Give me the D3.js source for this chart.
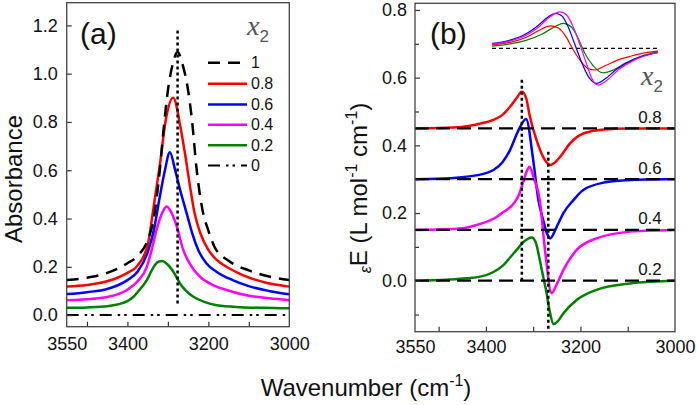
<!DOCTYPE html>
<html><head><meta charset="utf-8">
<script src="https://cdn.jsdelivr.net/npm/d3@7"></script>
<style>body{margin:0;background:#fff} svg{display:block} text{font-family:Arial,"Liberation Sans",sans-serif;fill:#111}</style>
</head><body><svg id="c" width="697" height="405"></svg>
<script>
// ---------- Panel (a) data: absorbance vs wavenumber ----------
const wnA_1 = [3550,3500,3450,3400,3375,3350,3335,3320,3310,3300,3288,3276,3264,3250,3240,3230,3215,3200,3184,3150,3100,3050,3000];
const absA_1 = [0.145,0.155,0.175,0.215,0.245,0.31,0.40,0.60,0.78,0.93,1.04,1.09,1.04,0.93,0.80,0.62,0.44,0.35,0.28,0.225,0.185,0.16,0.145];
const wnA_08 = [3550,3500,3450,3400,3375,3350,3335,3320,3305,3287,3268,3255,3245,3235,3220,3200,3180,3150,3115,3060,3000];
const absA_08 = [0.118,0.125,0.14,0.175,0.205,0.29,0.45,0.62,0.81,0.90,0.77,0.64,0.53,0.43,0.34,0.27,0.23,0.195,0.166,0.135,0.118];
const wnA_06 = [3550,3500,3450,3400,3375,3350,3335,3320,3308,3295,3282,3270,3260,3250,3240,3225,3205,3180,3140,3100,3050,3000];
const absA_06 = [0.087,0.095,0.108,0.145,0.18,0.26,0.35,0.49,0.595,0.675,0.60,0.52,0.46,0.40,0.34,0.27,0.215,0.18,0.145,0.12,0.10,0.086];
const wnA_04 = [3550,3500,3450,3400,3375,3352,3340,3328,3315,3303,3290,3278,3262,3245,3221,3190,3155,3100,3050,3000];
const absA_04 = [0.062,0.066,0.075,0.105,0.14,0.20,0.27,0.353,0.42,0.45,0.42,0.367,0.27,0.21,0.159,0.125,0.104,0.08,0.07,0.062];
const wnA_02 = [3550,3500,3450,3400,3385,3365,3352,3340,3332,3322,3314,3305,3295,3283,3270,3255,3237,3210,3179,3120,3060,3000];
const absA_02 = [0.03,0.032,0.037,0.058,0.076,0.115,0.145,0.185,0.208,0.222,0.224,0.216,0.2,0.17,0.131,0.10,0.076,0.055,0.041,0.033,0.03,0.028];
const wnA_0 = [3550,3000];
const absA_0 = [0,0];
const legendLabels = ["1","0.8","0.6","0.4","0.2","0"];
const peakLineA = {w:3276, from:0.048, to:1.187};

// ---------- Panel (b) data: excess absorptivity (offset curves) ----------
const wnB_08 = [3550,3500,3448,3400,3384,3365,3349,3335,3324,3315,3307,3293,3279,3264,3250,3243,3222,3194,3150,3100,3050,3000];
const epsB_08 = [0.45,0.451,0.455,0.468,0.475,0.49,0.514,0.54,0.558,0.54,0.485,0.416,0.366,0.342,0.355,0.366,0.406,0.435,0.447,0.45,0.45,0.45];
const wnB_06 = [3550,3500,3450,3400,3384,3365,3349,3331,3315,3300,3289,3278,3271,3264,3250,3236,3215,3194,3150,3100,3050,3000];
const epsB_06 = [0.30,0.301,0.306,0.318,0.327,0.35,0.386,0.445,0.478,0.357,0.238,0.175,0.14,0.125,0.16,0.2,0.238,0.268,0.29,0.297,0.299,0.30];
const wnB_04 = [3550,3500,3450,3412,3380,3363,3348,3340,3330,3321,3314,3308,3298,3286,3275,3261,3250,3236,3208,3166,3095,3050,3000];
const epsB_04 = [0.15,0.151,0.155,0.168,0.186,0.203,0.218,0.23,0.255,0.292,0.322,0.337,0.30,0.238,0.091,-0.037,-0.01,0.032,0.091,0.125,0.145,0.148,0.15];
const wnB_02 = [3550,3483,3440,3412,3385,3363,3348,3335,3320,3303,3295,3286,3280,3273,3265,3257,3248,3236,3208,3166,3095,3050,3000];
const epsB_02 = [0.0,0.003,0.007,0.012,0.025,0.046,0.07,0.091,0.115,0.128,0.115,0.061,0.02,-0.027,-0.09,-0.128,-0.12,-0.096,-0.057,-0.027,-0.008,-0.003,0.0];
const offsetsB = [0.45,0.30,0.15,0.0];
const offsetLabelsB = ["0.8","0.6","0.4","0.2"];
const peakLinesB = [{w:3324, from:0.0, to:0.596},{w:3268, from:-0.16, to:0.381}];

// ---------- Inset (normalized, unlabeled) ----------
const insU_08 = [0,10,20,28,35,40,45,49,54,58,62,68,76,84,92,100];
const insV_08 = [0.10,0.16,0.30,0.50,0.64,0.58,0.30,-0.05,-0.40,-0.58,-0.62,-0.50,-0.33,-0.22,-0.13,-0.08];
const insU_06 = [0,10,20,28,34,38,42,46,50,54,58,63,68,75,85,100];
const insV_06 = [0.14,0.22,0.40,0.66,0.90,1.0,0.93,0.60,0.10,-0.40,-0.80,-1.0,-0.88,-0.60,-0.33,-0.12];
const insU_04 = [0,10,20,28,35,41,45,49,53,57,60,64,69,76,86,100];
const insV_04 = [0.12,0.20,0.36,0.60,0.90,1.04,0.95,0.60,0.10,-0.45,-0.85,-1.05,-0.92,-0.62,-0.33,-0.12];
const insU_02 = [0,10,20,30,38,43,48,52,56,61,67,73,80,90,100];
const insV_02 = [0.06,0.12,0.22,0.40,0.62,0.71,0.60,0.28,-0.15,-0.50,-0.70,-0.62,-0.43,-0.22,-0.10];

const xTickLabels = [3550,3400,3200,3000];
const xTickMarks = [3500,3400,3300,3200,3100];
const yTicksA = [0,0.2,0.4,0.6,0.8,1.0,1.2];
const yTicksB = [0,0.2,0.4,0.6,0.8];
const yMinorB = [-0.1,0.1,0.3,0.5,0.7];

const colors = {"1":"#000","0.8":"#ff0000","0.6":"#0000ff","0.4":"#ff00ff","0.2":"#008000","0":"#000"};

// ---------- drawing ----------
const svg = d3.select("#c");
const A = {l:66.7, r:289.3, t:2.7, b:326.7};
const B = {l:415, r:675, t:3.3, b:331.7};
const xA = d3.scaleLinear().domain([3550,3000]).range([A.l,A.r]);
const yA = d3.scaleLinear().domain([-0.048,1.294]).range([A.b,A.t]);
const xB = d3.scaleLinear().domain([3550,3000]).range([B.l,B.r]);
const yB = d3.scaleLinear().domain([-0.1507,0.8197]).range([B.b,B.t]);
const xI = d3.scaleLinear().domain([0,100]).range([492,658]);
const yI = d3.scaleLinear().domain([-1,1]).range([83.3,13.3]);

function zip(a,b){return a.map((d,i)=>[d,b[i]]);}
function lineGen(x,y){return d3.line().x(d=>x(d[0])).y(d=>y(d[1])).curve(d3.curveMonotoneX);}

function frame(P, x, y, yt, minor, xpad, ypad){
  const gx = svg.append("g").attr("transform",`translate(0,${P.b})`);
  gx.call(d3.axisBottom(x).tickValues(xTickMarks).tickSizeInner(-5).tickSizeOuter(0).tickFormat(""));
  gx.select(".domain").remove();
  gx.selectAll("line").attr("stroke","#333").attr("stroke-width",1.2);
  const gl = svg.append("g").attr("transform",`translate(0,${P.b})`);
  gl.call(d3.axisBottom(x).tickValues(xTickLabels).tickSize(0).tickPadding(xpad).tickFormat(d3.format("d")));
  gl.select(".domain").remove();
  gl.selectAll("text").attr("font-size",18).attr("fill","#111").attr("font-family","Arial, Liberation Sans");
  const gy = svg.append("g").attr("transform",`translate(${P.l},0)`);
  gy.call(d3.axisLeft(y).tickValues(yt).tickSizeInner(-5).tickSizeOuter(0).tickPadding(ypad).tickFormat(d3.format(".1f")));
  gy.select(".domain").remove();
  gy.selectAll("line").attr("stroke","#333").attr("stroke-width",1.2);
  gy.selectAll("text").attr("font-size",18).attr("fill","#111").attr("font-family","Arial, Liberation Sans");
  if(minor){
    const gm = svg.append("g").attr("transform",`translate(${P.l},0)`);
    gm.call(d3.axisLeft(y).tickValues(minor).tickSizeInner(-4).tickSizeOuter(0).tickFormat(""));
    gm.select(".domain").remove();
    gm.selectAll("line").attr("stroke","#333").attr("stroke-width",1.2);
  }
}

// ---- Panel (a)
svg.append("clipPath").attr("id","ca").append("rect").attr("x",A.l).attr("y",A.t).attr("width",A.r-A.l).attr("height",A.b-A.t);
const gA = svg.append("g").attr("clip-path","url(#ca)");
const LA = lineGen(xA,yA);
const seriesA = [
  {k:"0", d:zip(wnA_0,absA_0), dash:"12,6,2.5,4,2.5,6", w:2},
  {k:"0.2", d:zip(wnA_02,absA_02), dash:null, w:2.5},
  {k:"0.4", d:zip(wnA_04,absA_04), dash:null, w:2.5},
  {k:"0.6", d:zip(wnA_06,absA_06), dash:null, w:2.5},
  {k:"0.8", d:zip(wnA_08,absA_08), dash:null, w:2.5},
  {k:"1", d:zip(wnA_1,absA_1), dash:"12,8", w:2.5}
];
seriesA.forEach(s=>{
  gA.append("path").attr("d",LA(s.d)).attr("fill","none").attr("stroke",colors[s.k])
    .attr("stroke-width",s.w).attr("stroke-dasharray",s.dash);
});
gA.append("line").attr("x1",xA(peakLineA.w)).attr("x2",xA(peakLineA.w))
  .attr("y1",yA(peakLineA.from)).attr("y2",yA(peakLineA.to))
  .attr("stroke","#000").attr("stroke-width",2.5).attr("stroke-dasharray","3,3");
frame(A,xA,yA,yTicksA,null,10.5,9);
svg.append("rect").attr("x",A.l).attr("y",A.t).attr("width",A.r-A.l).attr("height",A.b-A.t)
  .attr("fill","none").attr("stroke","#444").attr("stroke-width",1.3);

// legend (a)
const lgY = [68.3,89.3,110,130.3,150.7,171];
const lgDash = {"1":"12,8","0":"12,6,2.5,4,2.5,6"};
legendLabels.forEach((k,i)=>{
  svg.append("line").attr("x1",208).attr("x2",247).attr("y1",lgY[i]-5.5).attr("y2",lgY[i]-5.5)
    .attr("stroke",colors[k]).attr("stroke-width",k==="0"?2:2.5).attr("stroke-dasharray",lgDash[k]||null);
  svg.append("text").attr("x",251).attr("y",lgY[i]).attr("font-size",16).text(k);
});
function x2Label(x,y){
  const t = svg.append("text").attr("x",x).attr("y",y).style("fill","#555");
  t.append("tspan").attr("font-family","Liberation Serif, Times New Roman, serif").attr("font-style","italic").attr("font-size",28).style("fill","#555").text("x");
  t.append("tspan").attr("font-size",17).attr("dy",7).style("fill","#555").text("2");
}
x2Label(247,35);
svg.append("text").attr("x",80).attr("y",44).attr("font-size",30).text("(a)");

// ---- Panel (b)
svg.append("clipPath").attr("id","cb").append("rect").attr("x",B.l).attr("y",B.t).attr("width",B.r-B.l).attr("height",B.b-B.t);
const gB = svg.append("g").attr("clip-path","url(#cb)");
const LB = lineGen(xB,yB);
const seriesB = [
  {k:"0.8", d:zip(wnB_08,epsB_08)},
  {k:"0.6", d:zip(wnB_06,epsB_06)},
  {k:"0.4", d:zip(wnB_04,epsB_04)},
  {k:"0.2", d:zip(wnB_02,epsB_02)}
];
seriesB.forEach(s=>{
  gB.append("path").attr("d",LB(s.d)).attr("fill","none").attr("stroke",colors[s.k]).attr("stroke-width",2.5);
});
offsetsB.forEach((o,i)=>{
  gB.append("line").attr("x1",xB(3550)).attr("x2",xB(3000)).attr("y1",yB(o)).attr("y2",yB(o))
    .attr("stroke","#000").attr("stroke-width",2.3).attr("stroke-dasharray","14,7");
  svg.append("text").attr("x",xB(3053)).attr("y",yB(o)-5.5).attr("text-anchor","middle").attr("font-size",17).text(offsetLabelsB[i]);
});
peakLinesB.forEach(p=>{
  gB.append("line").attr("x1",xB(p.w)).attr("x2",xB(p.w)).attr("y1",yB(p.from)).attr("y2",yB(p.to))
    .attr("stroke","#000").attr("stroke-width",2.5).attr("stroke-dasharray","3,3");
});
// inset
const LI = lineGen(xI,yI);
svg.append("line").attr("x1",xI(0)).attr("x2",xI(100)).attr("y1",yI(0)).attr("y2",yI(0))
  .attr("stroke","#000").attr("stroke-width",1.3).attr("stroke-dasharray","4,3");
[["0.2",insU_02,insV_02],["0.8",insU_08,insV_08],["0.6",insU_06,insV_06],["0.4",insU_04,insV_04]].forEach(([k,u,v])=>{
  svg.append("path").attr("d",LI(zip(u,v))).attr("fill","none").attr("stroke",colors[k]).attr("stroke-width",1.2);
});
x2Label(641,85);
frame(B,xB,yB,yTicksB,yMinorB,8.5,8);
svg.append("rect").attr("x",B.l).attr("y",B.t).attr("width",B.r-B.l).attr("height",B.b-B.t)
  .attr("fill","none").attr("stroke","#444").attr("stroke-width",1.3);
svg.append("text").attr("x",430).attr("y",44).attr("font-size",30).text("(b)");

// axis titles
svg.append("text").attr("transform","translate(22,179) rotate(-90)").attr("text-anchor","middle").attr("font-size",24).text("Absorbance");
const yt = svg.append("text").attr("transform","translate(367,188) rotate(-90)").attr("text-anchor","middle").attr("font-size",24);
yt.append("tspan").attr("font-size",16).attr("dy",4).attr("font-style","italic").text("ε");
yt.append("tspan").attr("dy",-4).text("E (L mol");
yt.append("tspan").attr("font-size",16).attr("dy",-10).text("-1");
yt.append("tspan").attr("dy",10).text(" cm");
yt.append("tspan").attr("font-size",16).attr("dy",-10).text("-1");
yt.append("tspan").attr("dy",10).text(")");
const xt = svg.append("text").attr("x",366).attr("y",396).attr("text-anchor","middle").attr("font-size",24);
xt.append("tspan").text("Wavenumber (cm");
xt.append("tspan").attr("font-size",16).attr("dy",-10).text("-1");
xt.append("tspan").attr("dy",10).text(")");
</script></body></html>
